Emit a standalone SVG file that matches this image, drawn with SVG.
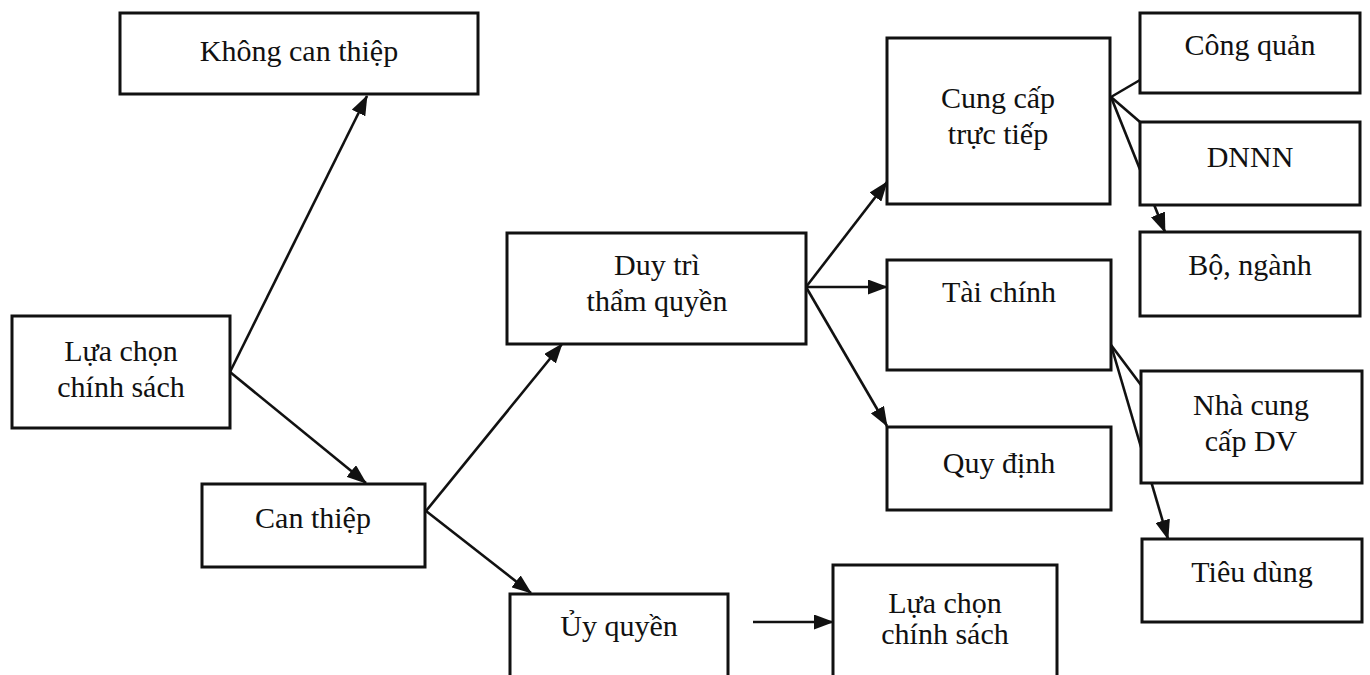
<svg xmlns="http://www.w3.org/2000/svg" width="1370" height="675" viewBox="0 0 1370 675">
<defs>
<style>
.box{fill:#fff;stroke:#111;stroke-width:3}
.t{font-family:"Liberation Serif","DejaVu Serif",serif;font-size:30px;fill:#111;text-anchor:middle}
.c{stroke:#111;stroke-width:2.6;fill:none}
.a{marker-end:url(#arr)}
</style>
<marker id="arr" markerUnits="userSpaceOnUse" markerWidth="20" markerHeight="15" viewBox="0 0 20 15" refX="19" refY="7.5" orient="auto">
<path d="M0,0 L20,7.5 L0,15 Z" fill="#111"/>
</marker>
</defs>
<rect width="1370" height="675" fill="#fff"/>
<g id="connectors">
<line class="c a" x1="230" y1="372" x2="367" y2="96"/>
<line class="c a" x1="230" y1="372" x2="366" y2="483"/>
<line class="c a" x1="426" y1="511" x2="562" y2="344"/>
<line class="c a" x1="426" y1="511" x2="531" y2="593"/>
<line class="c a" x1="753" y1="622" x2="833" y2="622"/>
<line class="c a" x1="806" y1="287" x2="887" y2="182"/>
<line class="c a" x1="806" y1="287" x2="887" y2="287"/>
<line class="c a" x1="806" y1="287" x2="887" y2="426"/>
<line class="c" x1="1111" y1="97" x2="1140" y2="80"/>
<line class="c" x1="1111" y1="97" x2="1140" y2="122"/>
<line class="c a" x1="1111" y1="97" x2="1165" y2="232"/>
<line class="c" x1="1111" y1="345" x2="1141" y2="385"/>
<line class="c a" x1="1111" y1="345" x2="1168" y2="539"/>
</g>
<g id="n-khong-can-thiep"><rect class="box" x="120" y="13" width="358" height="81"/><text class="t" x="299" y="61">Không can thiệp</text></g>
<g id="n-lua-chon"><rect class="box" x="12" y="316" width="218" height="112"/><text class="t" x="121" y="361">Lựa chọn</text><text class="t" x="121" y="397">chính sách</text></g>
<g id="n-can-thiep"><rect class="box" x="202" y="484" width="223" height="83"/><text class="t" x="313" y="528">Can thiệp</text></g>
<g id="n-duy-tri"><rect class="box" x="507" y="233" width="299" height="111"/><text class="t" x="657" y="275">Duy trì</text><text class="t" x="657" y="311">thẩm quyền</text></g>
<g id="n-uy-quyen"><rect class="box" x="510" y="594" width="218" height="100"/><text class="t" x="619" y="636">Ủy quyền</text></g>
<g id="n-lua-chon-2"><rect class="box" x="833" y="565" width="224" height="130"/><text class="t" x="945" y="613">Lựa chọn</text><text class="t" x="945" y="644">chính sách</text></g>
<g id="n-cung-cap"><rect class="box" x="887" y="38" width="223" height="166"/><text class="t" x="998" y="108">Cung cấp</text><text class="t" x="998" y="144">trực tiếp</text></g>
<g id="n-tai-chinh"><rect class="box" x="887" y="260" width="224" height="110"/><text class="t" x="999" y="302">Tài chính</text></g>
<g id="n-quy-dinh"><rect class="box" x="887" y="427" width="224" height="83"/><text class="t" x="999" y="473">Quy định</text></g>
<g id="n-cong-quan"><rect class="box" x="1140" y="13" width="220" height="80"/><text class="t" x="1250" y="55">Công quản</text></g>
<g id="n-dnnn"><rect class="box" x="1140" y="122" width="220" height="83"/><text class="t" x="1250" y="167">DNNN</text></g>
<g id="n-bo-nganh"><rect class="box" x="1140" y="232" width="220" height="84"/><text class="t" x="1250" y="275">Bộ, ngành</text></g>
<g id="n-nha-cung-cap"><rect class="box" x="1141" y="371" width="221" height="112"/><text class="t" x="1251" y="415">Nhà cung</text><text class="t" x="1251" y="451">cấp DV</text></g>
<g id="n-tieu-dung"><rect class="box" x="1142" y="539" width="220" height="83"/><text class="t" x="1252" y="582">Tiêu dùng</text></g>
</svg>
